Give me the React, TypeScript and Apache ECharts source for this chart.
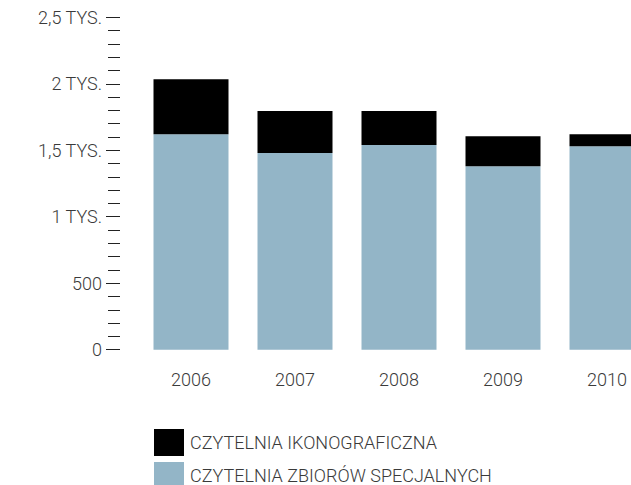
import React, { useEffect, useRef } from "react";
import * as echarts from "echarts";

const categories = ["2006", "2007", "2008", "2009", "2010"];
const specialCollections = [1620, 1480, 1540, 1380, 1530];
const iconographic = [415, 315, 255, 225, 90];
const yTickLabels: Record<number, string> = {
  0: "0",
  500: "500",
  1000: "1 TYS.",
  1500: "1,5 TYS.",
  2000: "2 TYS.",
  2500: "2,5 TYS.",
};
const seriesNames = ["CZYTELNIA IKONOGRAFICZNA", "CZYTELNIA ZBIORÓW SPECJALNYCH"];

const FONT = "Roboto, 'Noto Sans', sans-serif";
const TEXT = "#3a3a3a";

export default function App() {
  const ref = useRef<HTMLDivElement>(null);
  useEffect(() => {
    if (!ref.current) return;
    const chart = echarts.init(ref.current, undefined, { renderer: "svg" });
    chart.setOption({
      animation: false,
      backgroundColor: "#ffffff",
      grid: {
        left: 139,
        top: 17.3,
        width: 520,
        height: 332.4,
        containLabel: false,
        outerBoundsMode: "none",
      },
      legend: {
        orient: "vertical",
        left: 154,
        top: 429,
        height: 90,
        itemWidth: 30,
        itemHeight: 27,
        itemGap: 6,
        icon: "rect",
        padding: 0,
        data: [seriesNames[0], seriesNames[1]],
        textStyle: { fontFamily: FONT, fontSize: 18, fontWeight: 300, color: TEXT, padding: [0, 0, 0, 1] },
      },
      xAxis: {
        type: "category",
        data: categories,
        axisLine: { show: false },
        axisTick: { show: false },
        axisLabel: { margin: 21, fontFamily: FONT, fontSize: 18, fontWeight: 300, color: TEXT },
      },
      yAxis: {
        type: "value",
        min: 0,
        max: 2500,
        interval: 500,
        offset: 19,
        axisLine: { show: false },
        axisTick: { show: true, length: 14, lineStyle: { color: "#222", width: 1 } },
        minorTick: { show: true, splitNumber: 5, length: 12, lineStyle: { color: "#222", width: 1 } },
        splitLine: { show: false },
        minorSplitLine: { show: false },
        axisLabel: {
          margin: 18,
          fontFamily: FONT,
          fontSize: 18,
          fontWeight: 300,
          color: TEXT,
          formatter: (v: number) => yTickLabels[v] ?? String(v),
        },
      },
      series: [
        {
          name: seriesNames[1],
          type: "bar",
          stack: "total",
          barWidth: 75,
          data: specialCollections,
          itemStyle: { color: "#93b5c7" },
        },
        {
          name: seriesNames[0],
          type: "bar",
          stack: "total",
          barWidth: 75,
          data: iconographic,
          itemStyle: { color: "#000000" },
        },
      ],
    });
    return () => chart.dispose();
  }, []);
  return (
    <div
      ref={ref}
      style={{ position: "fixed", left: 0, top: 0, width: 631, height: 485 }}
    />
  );
}
